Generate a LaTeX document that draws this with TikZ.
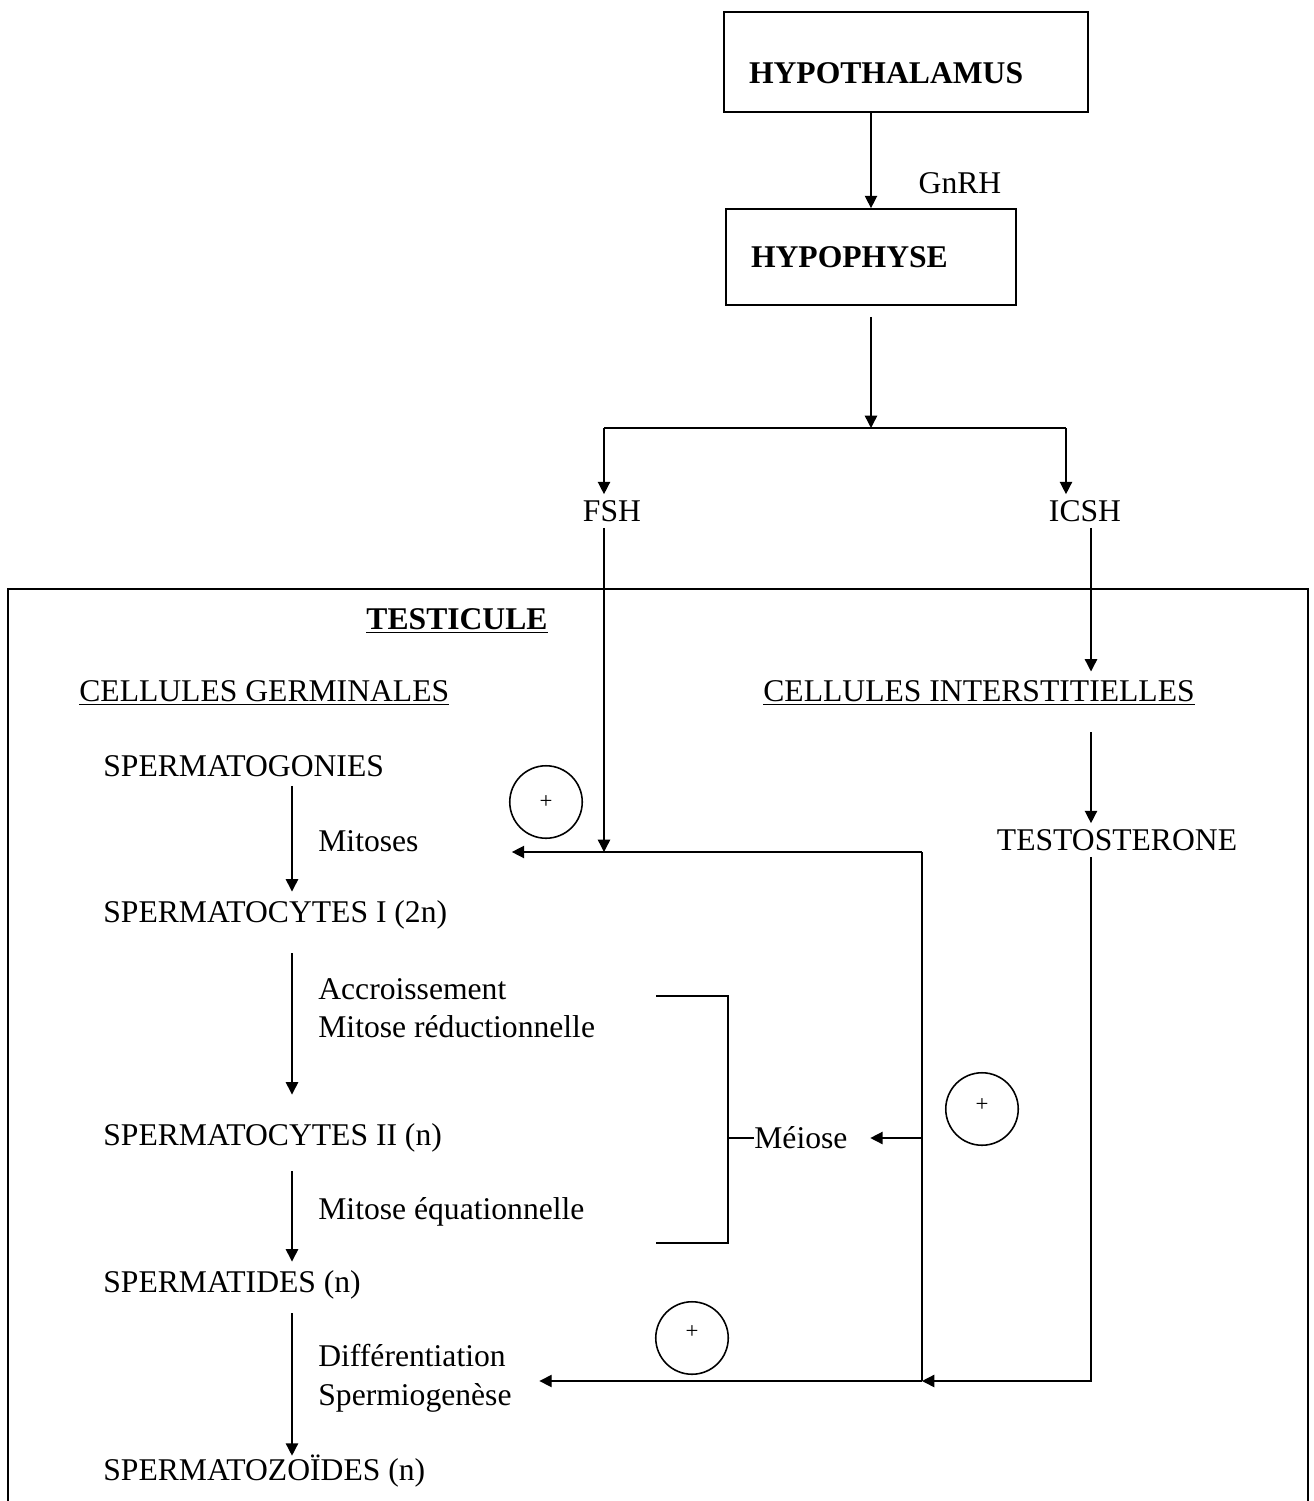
\documentclass[tikz,border=0pt]{standalone}
\usepackage{fontspec}
\setmainfont{Liberation Serif}
\usepackage{tikz}
\usetikzlibrary{arrows.meta,positioning,calc}

\begin{document}
\begin{tikzpicture}[
  x=0.02cm, y=-0.02cm,
  every node/.style={font=\fontsize{18}{22}\selectfont},
  box/.style={draw, line width=1pt, align=left, inner xsep=0.5cm},
  arrow/.style={-{Triangle[length=7pt,width=7pt]}, line width=0.8pt},
  line/.style={line width=0.8pt},
  stage/.style={anchor=west, inner xsep=0pt, inner ysep=5pt},
  plus/.style={draw, circle, line width=0.9pt, minimum size=1.45cm, inner sep=0pt, font=\fontsize{13}{14}\selectfont}
]
\useasboundingbox (0,0) rectangle (1313,1501);

% top of the axis
\node[box, minimum width=7.28cm, minimum height=2cm, text width=6.28cm] (hypothalamus) at (906,62) {\raisebox{-0.44cm}[0pt][0pt]{\textbf{HYPOTHALAMUS}}};
\node[box, minimum width=5.8cm, minimum height=1.92cm, text width=4.8cm] (hypophyse) at (871,257) {\textbf{HYPOPHYSE}};
\node (gnrh) at (960,183) {GnRH};
\node (fsh) at (612,511) {FSH};
\node (icsh) at (1085,511) {ICSH};
\coordinate (split) at (871,428);
\coordinate (fshx) at (604,0);
\coordinate (icshx) at (1066,0);
\coordinate (icshy) at (1091,0);

\draw[arrow] (hypothalamus.south -| hypophyse.north) -- (hypophyse.north);
\draw[arrow, shorten <=0.22cm] (hypophyse.south) -- (split);
\draw[line] (split) -- (split -| fshx) (split) -- (split -| icshx);
\draw[arrow] (split -| fshx) -- (fsh.north -| fshx);
\draw[arrow] (split -| icshx) -- (icsh.north -| icshx);

% testicule
\draw[line] (8,1501) |- (1308,589) -- (1308,1501);
\node (testicule) at (457,621) {\underline{\textbf{TESTICULE}}};
\node[stage] (germinales) at (79,693) {\underline{CELLULES GERMINALES}};
\node[stage] (interstitielles) at (763,693) {\underline{CELLULES INTERSTITIELLES}};
\node (testosterone) at (1117,840) {TESTOSTERONE};

% germ line
\coordinate (col) at (292,0);
\node[stage] (spermatogonies) at (103,766) {SPERMATOGONIES};
\node[stage] (spermatocytesI) at (103,915) {SPERMATOCYTES I (2n)};
\node[stage] (spermatocytesII) at (103,1138) {SPERMATOCYTES II (n)};
\node[stage] (spermatides) at (103,1285) {SPERMATIDES (n)};
\node[stage] (spermatozoides) at (103,1471) {SPERMATOZOÏDES (n)};
\node[stage] (mitoses) at (318,841) {Mitoses};
\node[stage, align=left] (accroissement) at (318,1008) {Accroissement\\Mitose réductionnelle};
\node[stage] (equationnelle) at (318,1212) {Mitose équationnelle};
\node[stage, align=left] (differentiation) at (318,1378) {Différentiation\\Spermiogenèse};
\node[stage] (meiose) at (754,1138) {Méiose};

\draw[arrow] (spermatogonies.south -| col) -- (spermatocytesI.north -| col);
\draw[arrow, shorten <=0.3cm, shorten >=0.4cm] (spermatocytesI.south -| col) -- (spermatocytesII.north -| col);
\draw[arrow, shorten <=0.2cm] (spermatocytesII.south -| col) -- (spermatides.north -| col);
\draw[arrow, shorten <=0.1cm, shorten >=-0.2cm] (spermatides.south -| col) -- (spermatozoides.north -| col);

% meiose bracket
\coordinate (brtop) at (656,996);
\coordinate (brbot) at (656,1243);
\draw[line] (brtop) -- ++(72,0) |- (brbot);
\draw[line] (meiose.west) -- ++(-26,0);

% feedback
\coordinate (fb) at (922,852);
\coordinate (fbb) at (922,1381);
\coordinate (tb) at (1091,1381);
\coordinate (fshjoin) at (604,852);
\draw[arrow] (fsh.south -| fshjoin) -- (fshjoin);
\draw[arrow] (icsh.south -| icshy) -- (interstitielles.north -| icshy);
\draw[arrow, shorten <=0.35cm] (interstitielles.south -| icshy) -- (testosterone.north -| icshy);
\draw[arrow] (fb) -- ([xshift=1.86cm]mitoses.east |- fb);
\draw[line] (fb) -- (fbb);
\draw[arrow] (fb |- meiose) -- ([xshift=0.45cm]meiose.east);
\draw[arrow] (testosterone.south -| tb) -- (tb) -- (fbb);
\draw[arrow] (fbb) -- ([xshift=0.55cm]differentiation.east |- fbb);

\node[plus] (plusfsh) at (546,802) {+};
\node[plus] (plusmeiose) at (982,1109) {\raisebox{0.15cm}{+}};
\node[plus] (plusdiff) at (692,1338) {\raisebox{0.25cm}{+}};
\end{tikzpicture}
\end{document}
